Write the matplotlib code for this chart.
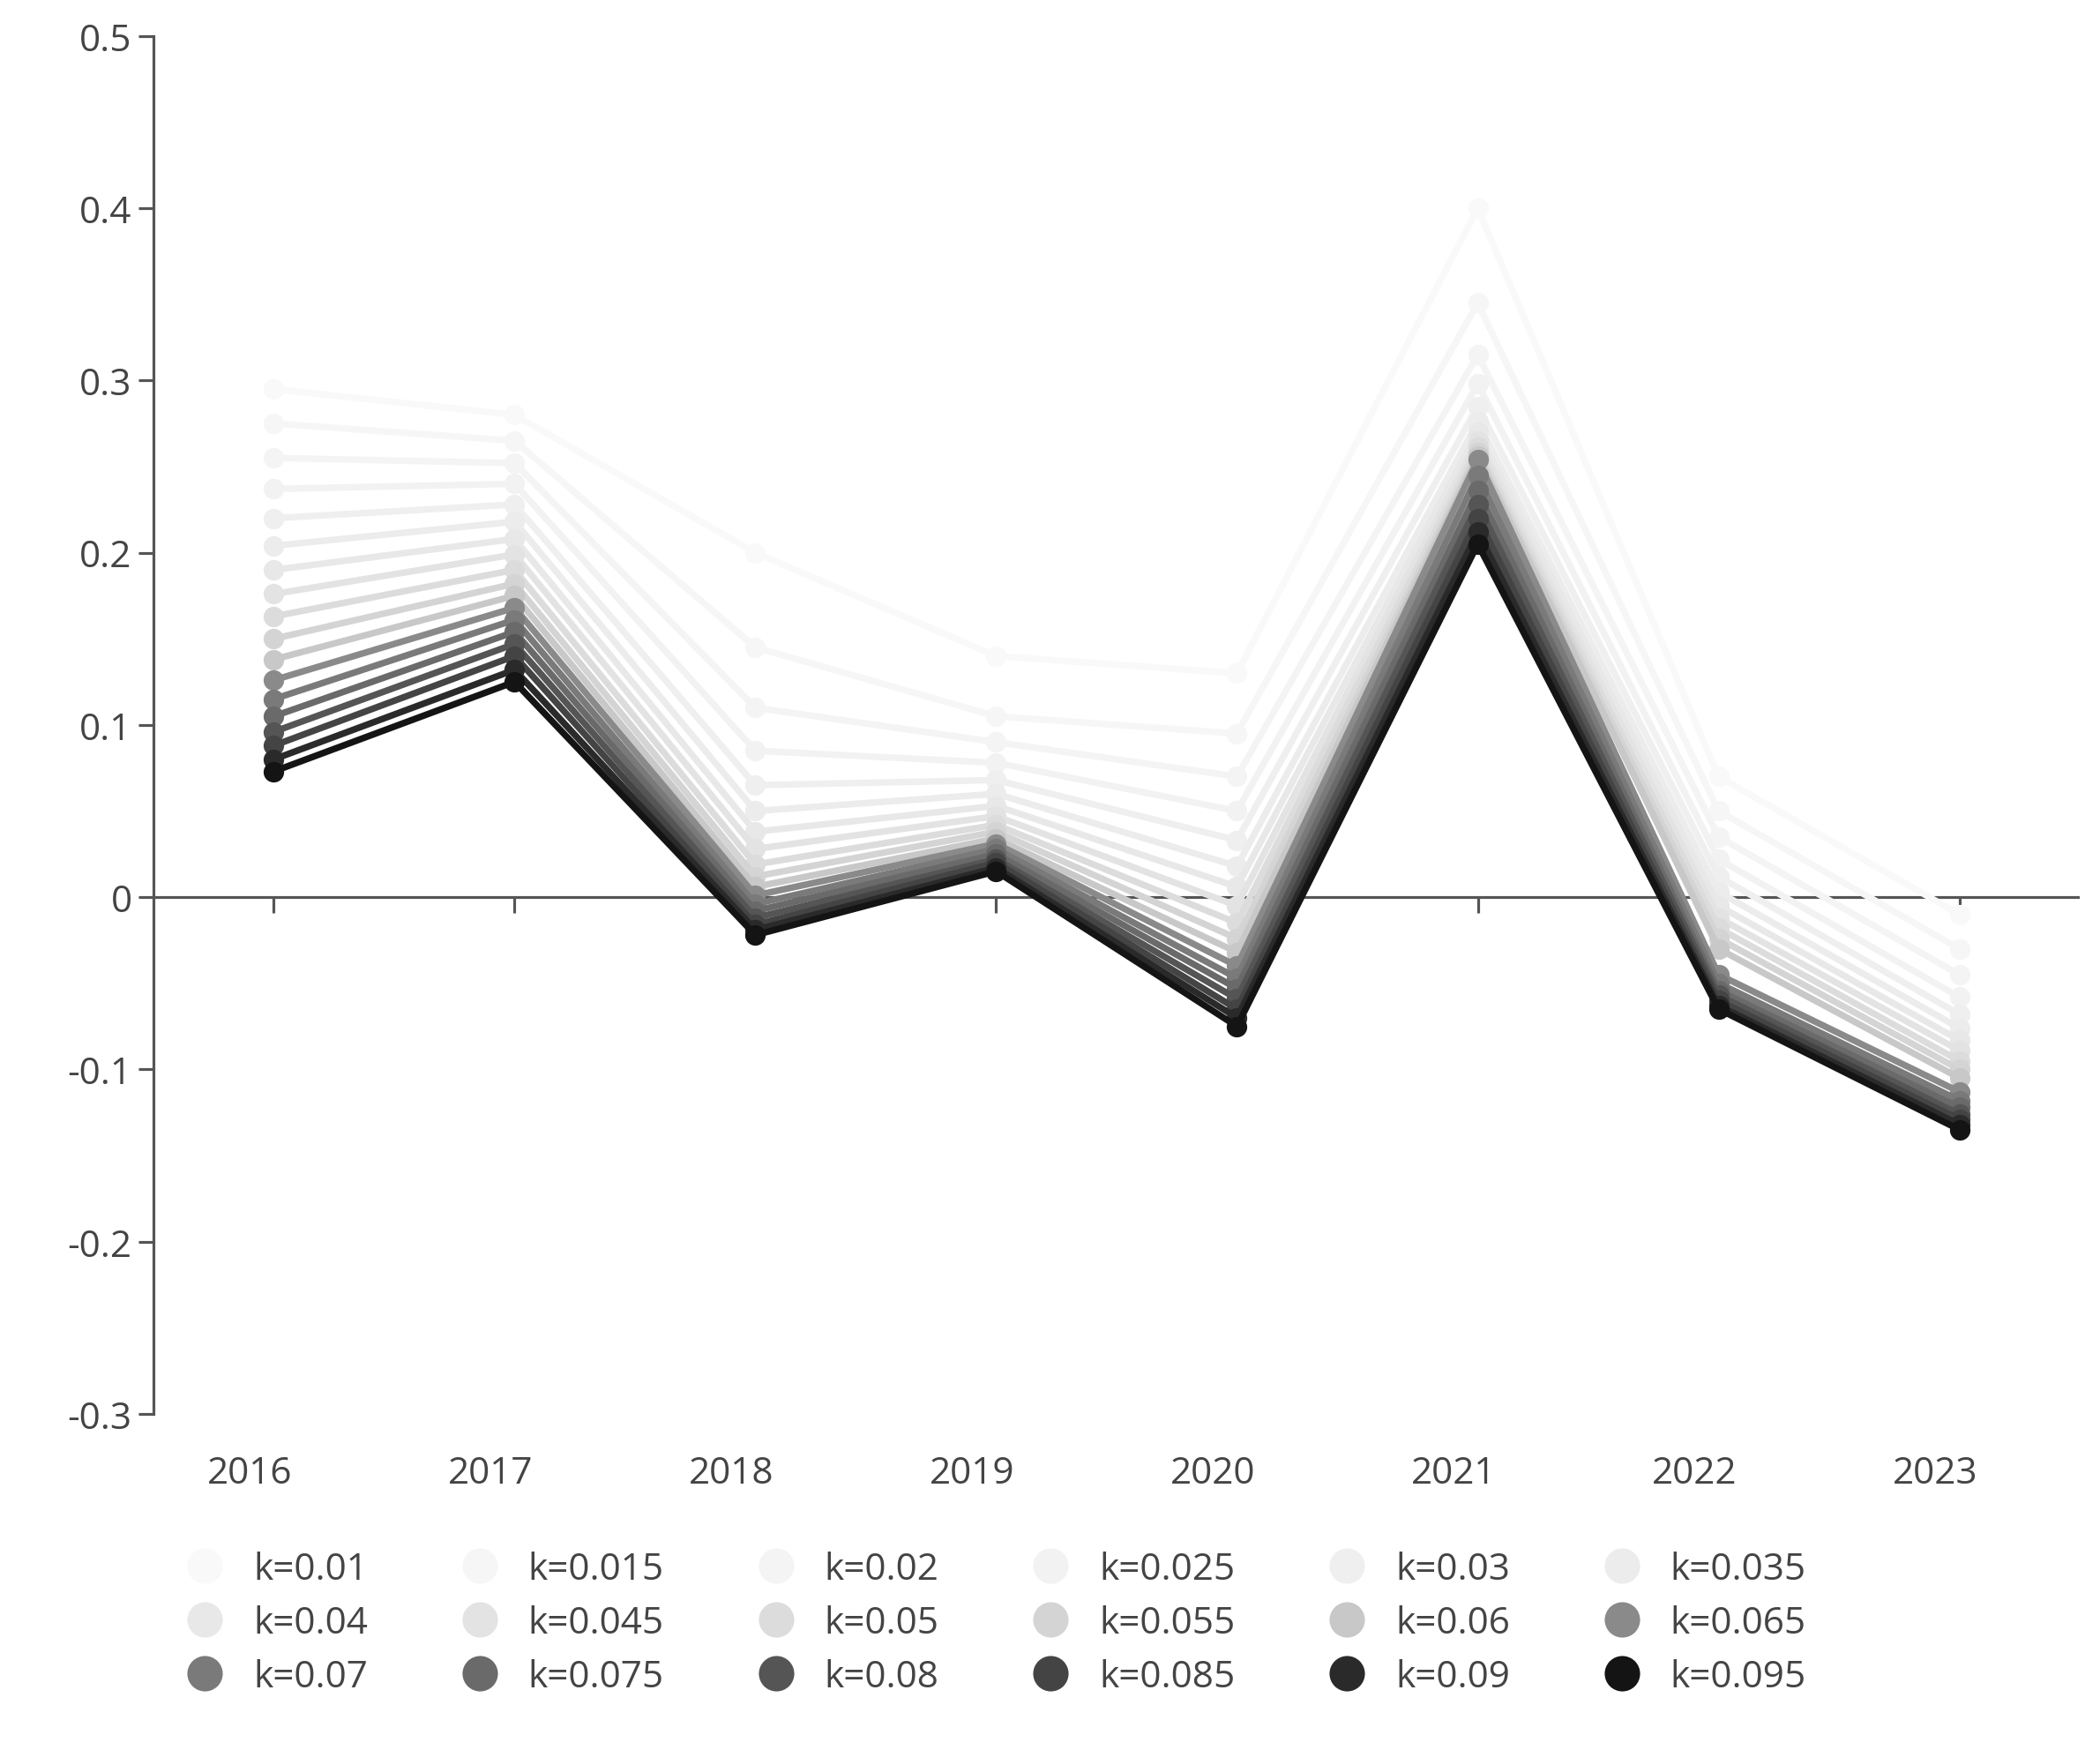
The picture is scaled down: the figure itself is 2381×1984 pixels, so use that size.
import matplotlib
matplotlib.use("Agg")
import matplotlib.pyplot as plt
from matplotlib.lines import Line2D

plt.rcParams['font.family'] = ['Open Sans', 'DejaVu Sans']

years = [2016, 2017, 2018, 2019, 2020, 2021, 2022, 2023]
k_values = [0.01, 0.015, 0.02, 0.025, 0.03, 0.035, 0.04, 0.045, 0.05,
            0.055, 0.06, 0.065, 0.07, 0.075, 0.08, 0.085, 0.09, 0.095]

# values per year, one entry per k (from k=0.01 to k=0.095)
v2016 = [0.295, 0.275, 0.255, 0.237, 0.220, 0.204, 0.190, 0.176, 0.163,
         0.150, 0.138, 0.126, 0.115, 0.105, 0.096, 0.088, 0.080, 0.073]
v2017 = [0.280, 0.265, 0.252, 0.240, 0.228, 0.218, 0.208, 0.199, 0.190,
         0.182, 0.175, 0.168, 0.161, 0.154, 0.147, 0.140, 0.132, 0.125]
v2018 = [0.200, 0.145, 0.110, 0.085, 0.065, 0.050, 0.038, 0.028, 0.019,
         0.012, 0.006, 0.001, -0.004, -0.008, -0.012, -0.016, -0.019, -0.022]
v2019 = [0.140, 0.105, 0.090, 0.078, 0.068, 0.060, 0.053, 0.047, 0.042,
         0.038, 0.034, 0.031, 0.028, 0.025, 0.022, 0.020, 0.017, 0.015]
v2020 = [0.130, 0.095, 0.070, 0.050, 0.033, 0.018, 0.006, -0.005, -0.015,
         -0.024, -0.032, -0.040, -0.047, -0.053, -0.059, -0.065, -0.070, -0.075]
v2021 = [0.400, 0.345, 0.315, 0.298, 0.285, 0.276, 0.270, 0.265, 0.261,
         0.258, 0.256, 0.254, 0.245, 0.236, 0.228, 0.220, 0.212, 0.205]
v2022 = [0.070, 0.050, 0.035, 0.022, 0.012, 0.003, -0.005, -0.012, -0.018,
         -0.024, -0.030, -0.045, -0.050, -0.054, -0.057, -0.060, -0.063, -0.065]
v2023 = [-0.010, -0.030, -0.045, -0.058, -0.068, -0.076, -0.083, -0.089, -0.095,
         -0.100, -0.105, -0.113, -0.118, -0.122, -0.126, -0.129, -0.132, -0.135]

colors = ['#f9f9f9', '#f6f6f6', '#f4f4f4', '#f2f2f2', '#efefef', '#ececec',
          '#e8e8e8', '#e3e3e3', '#dcdcdc', '#d4d4d4', '#c8c8c8', '#8a8a8a',
          '#7a7a7a', '#6a6a6a', '#555555', '#444444', '#2a2a2a', '#141414']

cols = [v2016, v2017, v2018, v2019, v2020, v2021, v2022, v2023]

fig = plt.figure(figsize=(15.66, 13.05), dpi=152.1)
ax = fig.add_axes([0.073, 0.192, 0.917, 0.787])

for i, k in enumerate(k_values):
    ys = [c[i] for c in cols]
    ax.plot(years, ys, color=colors[i], lw=3.5, marker='o', ms=10,
            solid_joinstyle='round', zorder=2 + i)

ax.axhline(0, color='#555555', lw=1.5, zorder=1)
ax.vlines(years, -0.009, 0, color='#555555', lw=1.5, zorder=1)

ax.set_xlim(2015.5, 2023.5)
ax.set_ylim(-0.3, 0.5)
ax.set_yticks([-0.3, -0.2, -0.1, 0, 0.1, 0.2, 0.3, 0.4, 0.5])
ax.set_yticklabels(['-0.3', '-0.2', '-0.1', '0', '0.1', '0.2', '0.3', '0.4', '0.5'])
ax.set_xticks([y - 0.1 for y in years])
ax.set_xticklabels([str(y) for y in years])
ax.tick_params(axis='x', length=0, pad=22, labelsize=20, labelcolor='#444444')
ax.tick_params(axis='y', direction='out', length=8, width=1.5, color='#555555',
               labelsize=20, labelcolor='#444444')
for s in ['top', 'right', 'bottom']:
    ax.spines[s].set_visible(False)
ax.spines['left'].set_color('#555555')
ax.spines['left'].set_linewidth(1.5)

# legend, filled row by row
ncol = 6
nrow = 3
handles = [Line2D([], [], ls='none', marker='o', ms=18, color=colors[i])
           for i in range(len(k_values))]
labels = [f'k={k:g}' for k in k_values]
order = [r * ncol + c for c in range(ncol) for r in range(nrow)]
ax.legend([handles[i] for i in order], [labels[i] for i in order],
          ncol=ncol, loc='upper left', bbox_to_anchor=(-0.01, -0.075),
          frameon=False, fontsize=20, handletextpad=0.3, columnspacing=2.0,
          labelspacing=0.45, labelcolor='#444444')

fig.savefig('out.png', dpi=152.1)
